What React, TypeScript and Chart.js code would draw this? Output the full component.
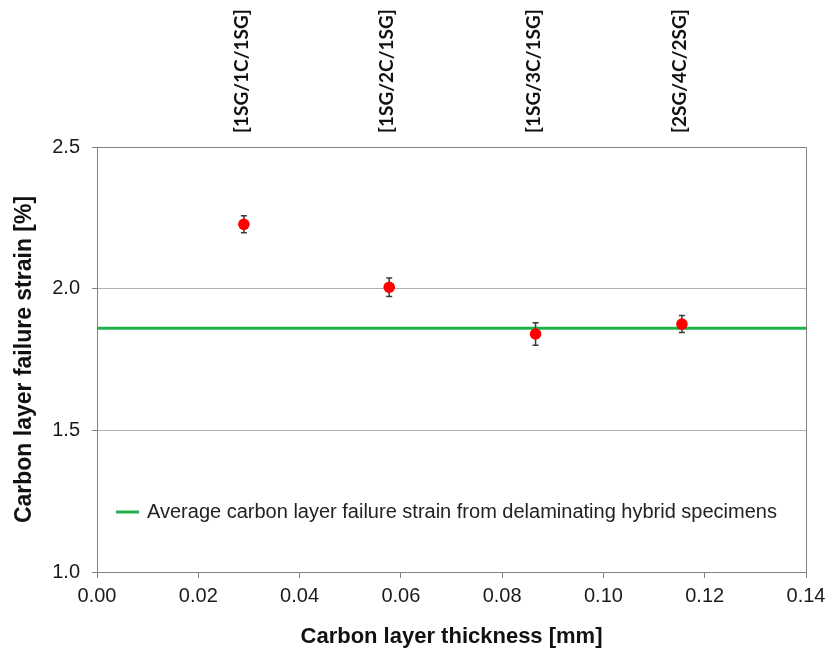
import React, { useEffect, useRef } from "react";
import { Chart, registerables } from "chart.js";

Chart.register(...registerables);

const thicknessMm = [0.029, 0.0577, 0.0866, 0.1155];
const failureStrain = [2.227, 2.005, 1.84, 1.875];
const strainError = [0.03, 0.033, 0.04, 0.03];
const layupLabels = ["[1SG/1C/1SG]", "[1SG/2C/1SG]", "[1SG/3C/1SG]", "[2SG/4C/2SG]"];
const averageStrain = 1.86;
const xLimits = [0, 0.14];
const yLimits = [1.0, 2.5];
const xTickStep = 0.02;
const yTickStep = 0.5;
const legendText = "Average carbon layer failure strain from delaminating hybrid specimens";
const xTitle = "Carbon layer thickness [mm]";
const yTitle = "Carbon layer failure strain [%]";

const FONT = "'Liberation Sans', Arial, sans-serif";

const decorations = {
  id: "decorations",
  afterDatasetDraw(chart: any, args: any) {
    if (args.index !== 1) return;
    const ctx = chart.ctx;
    const xs = chart.scales.x;
    const ys = chart.scales.y;
    ctx.save();
    ctx.strokeStyle = "#3a3a3a";
    ctx.lineWidth = 1.5;
    thicknessMm.forEach((t, i) => {
      const x = xs.getPixelForValue(t);
      const y1 = ys.getPixelForValue(failureStrain[i] + strainError[i]);
      const y2 = ys.getPixelForValue(failureStrain[i] - strainError[i]);
      ctx.beginPath();
      ctx.moveTo(x, y1);
      ctx.lineTo(x, y2);
      ctx.moveTo(x - 3, y1);
      ctx.lineTo(x + 3, y1);
      ctx.moveTo(x - 3, y2);
      ctx.lineTo(x + 3, y2);
      ctx.stroke();
    });
    ctx.restore();
  },
  afterDraw(chart: any) {
    const ctx = chart.ctx;
    const a = chart.chartArea;
    const xs = chart.scales.x;
    ctx.save();
    // top and right frame
    ctx.strokeStyle = "#7f7f7f";
    ctx.lineWidth = 1;
    ctx.beginPath();
    const top = Math.round(a.top) + 0.5;
    const right = Math.round(a.right) + 0.5;
    ctx.moveTo(a.left, top);
    ctx.lineTo(right, top);
    ctx.lineTo(right, a.bottom);
    ctx.stroke();

    // layup labels above the plot
    ctx.fillStyle = "#111";
    ctx.font = "bold 19px Lato, 'Open Sans', sans-serif";
    ctx.textAlign = "left";
    ctx.textBaseline = "middle";
    thicknessMm.forEach((t, i) => {
      const x = xs.getPixelForValue(t);
      ctx.save();
      ctx.translate(x - 2, a.top - 14);
      ctx.rotate(-Math.PI / 2);
      ctx.fillText(layupLabels[i], 0, 0);
      ctx.restore();
    });

    // legend
    const ly = a.bottom - 60;
    ctx.strokeStyle = "#1fb24a";
    ctx.lineWidth = 3;
    ctx.beginPath();
    ctx.moveTo(a.left + 19, ly);
    ctx.lineTo(a.left + 42, ly);
    ctx.stroke();
    ctx.fillStyle = "#222";
    ctx.font = `20px ${FONT}`;
    ctx.textBaseline = "middle";
    ctx.fillText(legendText, a.left + 50, ly);
    ctx.restore();
  },
};

export default function App() {
  const canvasRef = useRef<HTMLCanvasElement | null>(null);

  useEffect(() => {
    if (!canvasRef.current) return;
    const chart = new Chart(canvasRef.current, {
      type: "scatter",
      data: {
        datasets: [
          {
            label: "Failure strain",
            data: thicknessMm.map((x, i) => ({ x, y: failureStrain[i] })),
            backgroundColor: "#ff0000",
            borderWidth: 0,
            pointRadius: 5.8,
            order: 1,
          },
          {
            label: legendText,
            data: [
              { x: xLimits[0], y: averageStrain },
              { x: xLimits[1], y: averageStrain },
            ],
            showLine: true,
            borderColor: "#1fb24a",
            borderWidth: 3,
            pointRadius: 0,
            order: 2,
          } as any,
        ],
      },
      options: {
        animation: false,
        responsive: true,
        maintainAspectRatio: false,
        layout: { padding: { top: 147, right: 20, left: 0, bottom: 0 } },
        plugins: {
          legend: { display: false },
          tooltip: { enabled: false },
        },
        scales: {
          x: {
            type: "linear",
            min: xLimits[0],
            max: xLimits[1],
            afterFit: (s: any) => {
              s.height = 78;
              s.paddingLeft = 0;
              s.paddingRight = 0;
            },
            ticks: {
              stepSize: xTickStep,
              callback: (v: any) => Number(v).toFixed(2),
              font: { family: FONT, size: 20 },
              color: "#1a1a1a",
              padding: 6,
              maxRotation: 0,
            },
            grid: {
              drawOnChartArea: false,
              drawTicks: true,
              tickLength: 6,
              tickColor: "#7f7f7f",
            },
            border: { display: true, color: "#7f7f7f", width: 1 },
            title: {
              display: true,
              text: xTitle,
              font: { family: FONT, size: 22, weight: "bold" },
              color: "#111",
              padding: { top: 0, bottom: 0 },
            },
          },
          y: {
            type: "linear",
            min: yLimits[0],
            max: yLimits[1],
            afterFit: (s: any) => {
              s.width = 97;
            },
            ticks: {
              stepSize: yTickStep,
              callback: (v: any) => Number(v).toFixed(1),
              font: { family: FONT, size: 20 },
              color: "#1a1a1a",
              padding: 12,
            },
            grid: {
              color: "#b0b0b0",
              lineWidth: 1,
              drawTicks: true,
              tickLength: 5,
              tickColor: "#7f7f7f",
            },
            border: { display: true, color: "#7f7f7f", width: 1 },
            title: {
              display: true,
              text: yTitle,
              font: { family: FONT, size: 23, weight: "bold" },
              color: "#111",
              padding: { top: 11, bottom: 0 },
            },
          },
        },
      },
      plugins: [decorations],
    });
    return () => chart.destroy();
  }, []);

  return (
    <div
      style={{
        position: "fixed",
        left: 0,
        top: 0,
        width: 826,
        height: 650,
        background: "#fff",
      }}
    >
      <canvas ref={canvasRef} />
    </div>
  );
}
